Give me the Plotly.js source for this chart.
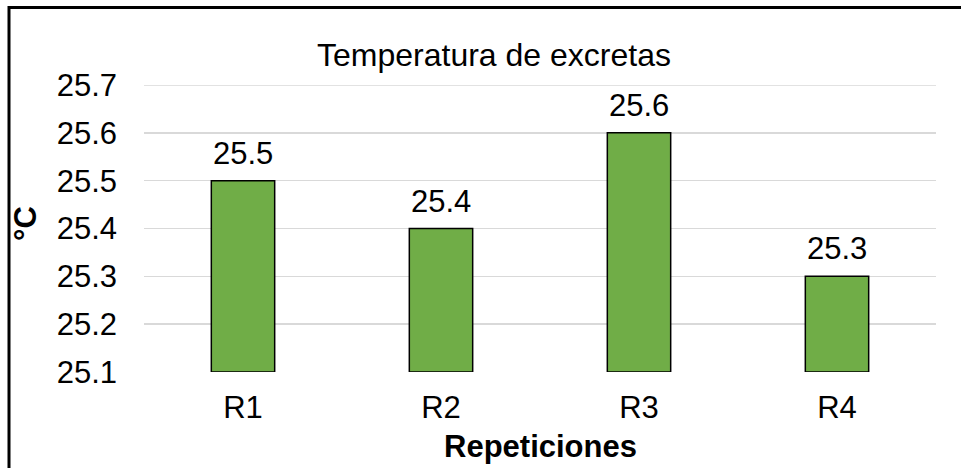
<!DOCTYPE html>
<html>
<head>
<meta charset="utf-8">
<script src="https://cdn.plot.ly/plotly-3.0.1.min.js"></script>
<style>html,body{margin:0;padding:0;background:#fff;}#chart{width:961px;height:468px;}</style>
</head>
<body>
<div id="chart"></div>
<script>
const categories = ["R1", "R2", "R3", "R4"];
const temperatures = [25.5, 25.4, 25.6, 25.3];
const labels = ["25.5", "25.4", "25.6", "25.3"];
const yTicks = [25.1, 25.2, 25.3, 25.4, 25.5, 25.6, 25.7];
const yTickText = ["25.1", "25.2", "25.3", "25.4", "25.5", "25.6", "25.7"];
const axisMin = 25.1;
const axisMax = 25.7;

const FONT = "Arial, 'Liberation Sans', sans-serif";
const L = 144, R = 25, T = 85, B = 96, W = 961, H = 468;
const pw = W - L - R, ph = H - T - B;
const px = p => (p - L) / pw;
const py = p => (H - B - p) / ph;

const trace = {
  type: "bar",
  x: categories,
  y: temperatures.map(v => v - axisMin),
  base: axisMin,
  marker: {color: "#70AD47", line: {color: "#000000", width: 1.5}},
  hoverinfo: "none"
};

const annotations = categories.map((c, i) => ({
  x: c, y: temperatures[i], xref: "x", yref: "y",
  text: labels[i], showarrow: false, yanchor: "bottom", yshift: 8,
  font: {family: FONT, size: 31, color: "#000"}
}));
annotations.push({
  xref: "paper", yref: "paper", x: 0.5, y: py(446), yanchor: "middle", xanchor: "center",
  text: "<b>Repeticiones</b>", showarrow: false, font: {family: FONT, size: 31, color: "#000"}
});
annotations.push({
  xref: "paper", yref: "paper", x: px(25), y: py(224), yanchor: "middle", xanchor: "center",
  text: "<b>°C</b>", textangle: -90, showarrow: false, font: {family: FONT, size: 31, color: "#000"}
});

const layout = {
  width: W, height: H,
  margin: {l: L, r: R, t: T, b: B, pad: 0},
  paper_bgcolor: "#fff", plot_bgcolor: "#fff",
  showlegend: false,
  bargap: 0.68,
  title: {text: "Temperatura de excretas", x: 494 / W, xref: "container", xanchor: "center",
          y: 1 - 55 / H, yanchor: "middle", font: {family: FONT, size: 32, color: "#000"}},
  xaxis: {type: "category", showgrid: false, zeroline: false, showline: false, ticks: "",
          tickfont: {family: FONT, size: 31, color: "#000"}, ticklabelstandoff: 14},
  yaxis: {range: [axisMin, axisMax], tickvals: yTicks, ticktext: yTickText, showgrid: true,
          gridcolor: "#d9d9d9", gridwidth: 1.5, zeroline: false, showline: false, ticks: "",
          tickfont: {family: FONT, size: 31, color: "#000"}, ticklabelstandoff: 26},
  annotations: annotations,
  shapes: [
    {type: "line", xref: "paper", yref: "y", x0: 0, x1: 1, y0: axisMax, y1: axisMax,
     line: {color: "#d9d9d9", width: 1.5}, layer: "below"},
    {type: "rect", xref: "paper", yref: "paper",
     x0: px(9), x1: px(990), y0: py(500), y1: py(7.5),
     line: {color: "#000", width: 3}, fillcolor: "rgba(0,0,0,0)", layer: "above"}
  ]
};
Plotly.newPlot("chart", [trace], layout, {staticPlot: true, displayModeBar: false});
</script>
</body>
</html>
